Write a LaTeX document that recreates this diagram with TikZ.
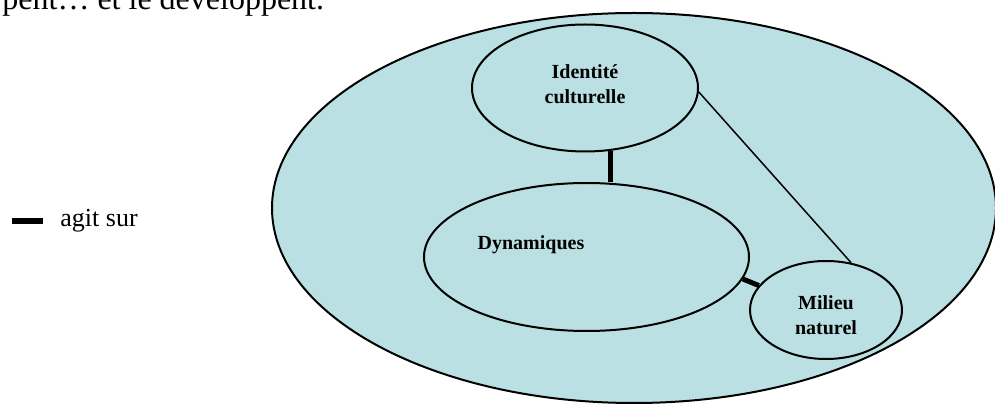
\documentclass[tikz,border=0pt]{standalone}
\usepackage{fontspec}
\setmainfont{Liberation Serif}
\usepackage{tikz}
\usetikzlibrary{shapes}
\usetikzlibrary{positioning}
\usetikzlibrary{calc}

\definecolor{milieu}{RGB}{186,224,227}

\tikzset{
  bubble/.style={draw, ellipse, fill=milieu, line width=1pt, inner sep=0pt},
  bubbletext/.style={align=center, font=\bfseries\fontsize{10}{12.5}\selectfont},
  agit/.style={line width=2.5pt},
  lien/.style={line width=0.75pt}
}

\begin{document}
\begin{tikzpicture}[x=0.5pt, y=-0.5pt]
  \useasboundingbox (0,0) rectangle (995,405);

  \node[anchor=base west, inner sep=0pt, font=\fontsize{16}{19}\selectfont] (intro) at (2,10) {pent… et le développent.};

  % legend
  \coordinate (legend) at (12,221);
  \draw[agit, line width=3pt] (legend) -- +(31,0) coordinate (legendend);
  \node[right=8.5pt of legendend, inner sep=0pt, font=\fontsize{13}{15}\selectfont] (legendtext) {agit sur};

  % territory
  \node[bubble, minimum width=362pt, minimum height=195pt] (territoire) at (634,208) {};

  \node[bubble, minimum width=113pt, minimum height=63.5pt,
        label={[bubbletext, yshift=2pt]center:Identité\\culturelle}] (identite) at (585,88) {};
  \node[bubble, minimum width=162.5pt, minimum height=74pt,
        label={[bubbletext, xshift=-27.75pt, yshift=6pt]center:Dynamiques}] (dynamiques) at (586.5,257) {};
  \node[bubble, minimum width=76pt, minimum height=49pt,
        label={[bubbletext, yshift=-2.5pt]center:Milieu\\naturel}] (milieu) at (826,310) {};

  % links
  \draw[agit] (identite.-68) -- (identite.-68 |- dynamiques.north);
  \draw[agit] (dynamiques.-8) -- (milieu.160);
  \draw[lien] (identite.-2) -- (milieu.62);
\end{tikzpicture}
\end{document}
